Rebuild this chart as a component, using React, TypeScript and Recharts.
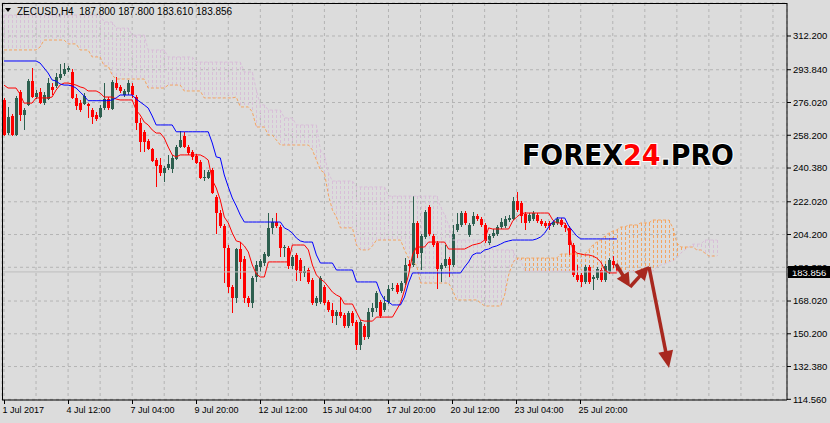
import React from 'react';
import {
  ComposedChart,
  Bar,
  Line,
  XAxis,
  YAxis,
  CartesianGrid,
  ReferenceLine,
} from 'recharts';

// bar slots on the time axis (candles + 26 bars of cloud + empty space)
const SLOTS = 196;

// OHLC per H4 bar: [open, high, low, close]
const candles: number[][] = [
  [277.4, 278.5, 257.8, 258.3], [259.4, 273.6, 258.3, 268.1], [268.7, 269.8, 257.8, 258.3], [258.3, 279.6, 257.8, 278.5],
  [281.7, 282.8, 266.0, 269.2], [269.2, 273.0, 261.1, 271.9], [274.7, 288.8, 274.1, 287.7], [287.7, 294.8, 278.5, 279.0],
  [279.0, 282.8, 277.9, 281.2], [281.7, 283.9, 275.2, 275.7], [275.7, 281.7, 274.7, 280.1], [277.9, 289.3, 277.4, 286.6],
  [284.5, 286.6, 280.1, 282.8], [285.0, 292.1, 283.9, 289.9], [289.3, 297.0, 288.3, 291.5], [291.5, 297.5, 290.4, 294.2],
  [293.7, 295.9, 292.6, 294.8], [292.6, 294.2, 277.9, 278.5], [278.5, 280.6, 271.9, 274.1], [275.7, 277.4, 270.9, 271.9],
  [275.2, 281.2, 274.7, 279.6], [275.2, 275.7, 267.6, 274.1], [271.9, 273.0, 264.3, 268.1], [269.2, 270.9, 266.0, 267.0],
  [268.1, 274.7, 267.6, 273.0], [273.0, 286.6, 271.9, 277.9], [277.9, 279.0, 271.9, 273.0], [272.5, 288.3, 271.9, 287.2],
  [286.6, 289.9, 282.8, 283.9], [284.5, 285.5, 281.2, 282.3], [280.1, 283.4, 279.0, 282.3], [281.7, 288.3, 280.1, 286.6],
  [285.0, 286.6, 278.5, 280.1], [279.0, 280.1, 261.1, 264.9], [264.9, 267.6, 249.1, 254.5], [260.0, 261.1, 249.1, 254.5],
  [255.1, 256.2, 250.2, 250.7], [250.7, 251.3, 243.7, 244.2], [244.7, 245.9, 230.1, 241.5], [242.0, 245.9, 236.0, 237.7],
  [237.7, 241.5, 232.8, 240.4], [240.4, 247.5, 239.3, 242.6], [239.9, 247.5, 237.7, 245.9], [245.3, 252.9, 244.7, 251.8],
  [251.8, 260.5, 251.3, 255.6], [257.8, 260.0, 251.3, 251.8], [251.8, 252.9, 247.5, 248.6], [249.1, 250.2, 244.7, 246.4],
  [247.0, 248.0, 242.6, 243.1], [243.7, 244.7, 234.4, 234.9], [234.9, 239.3, 233.3, 235.5], [234.9, 239.3, 234.4, 238.2],
  [239.3, 240.4, 226.2, 226.8], [224.6, 225.7, 204.5, 215.9], [215.9, 217.5, 207.8, 208.8], [208.8, 209.9, 177.8, 196.9],
  [196.9, 198.5, 172.4, 175.7], [175.7, 176.7, 161.5, 169.7], [169.7, 196.9, 167.0, 196.3], [196.3, 200.1, 180.0, 189.3],
  [190.9, 192.5, 167.0, 169.7], [169.7, 170.8, 164.8, 167.0], [167.0, 181.6, 164.2, 180.5], [181.1, 189.8, 178.4, 187.6],
  [186.5, 190.9, 183.8, 189.8], [188.7, 194.7, 187.1, 193.6], [192.5, 215.9, 192.0, 207.8], [207.8, 213.2, 204.5, 211.0],
  [211.0, 215.9, 207.8, 208.8], [208.3, 209.4, 192.0, 196.9], [196.9, 198.5, 192.0, 197.4], [196.9, 198.0, 185.4, 187.1],
  [187.1, 193.1, 185.4, 192.0], [193.1, 194.1, 178.9, 184.9], [190.3, 191.4, 178.9, 183.3], [183.3, 187.1, 181.1, 184.3],
  [184.9, 186.0, 177.3, 178.4], [179.5, 180.5, 165.9, 167.0], [167.0, 170.8, 165.3, 169.7], [167.5, 181.6, 166.4, 180.5],
  [175.7, 176.7, 165.9, 167.0], [167.5, 168.6, 162.0, 163.1], [163.1, 167.0, 156.1, 159.9], [159.9, 163.1, 155.0, 162.0],
  [162.0, 170.2, 158.8, 159.9], [160.4, 161.5, 153.3, 154.4], [154.4, 162.6, 153.3, 161.5], [161.5, 162.6, 154.4, 156.1],
  [156.6, 157.7, 141.4, 144.1], [144.1, 157.7, 141.4, 156.6], [154.4, 155.5, 146.8, 148.5], [148.5, 164.2, 147.4, 162.0],
  [162.0, 167.0, 159.3, 164.2], [164.2, 173.5, 162.0, 172.4], [167.5, 168.6, 158.8, 159.9], [163.1, 170.8, 162.0, 167.0],
  [167.5, 176.7, 166.4, 174.6], [174.6, 177.8, 173.5, 175.1], [176.7, 177.8, 171.8, 172.9], [173.5, 178.9, 172.4, 177.8],
  [177.8, 191.4, 176.7, 187.6], [188.2, 190.3, 183.8, 187.1], [187.6, 225.1, 186.5, 210.5], [210.5, 211.5, 191.4, 193.6],
  [194.1, 204.5, 184.9, 203.4], [202.9, 217.5, 201.8, 216.5], [219.2, 220.3, 203.4, 204.5], [203.4, 204.5, 197.4, 198.5],
  [199.6, 200.7, 174.6, 185.4], [185.4, 188.7, 178.4, 187.6], [187.1, 198.5, 186.0, 190.9], [190.9, 192.0, 181.1, 187.6],
  [187.6, 209.4, 186.5, 204.5], [206.7, 215.9, 205.6, 209.9], [209.4, 217.0, 208.3, 215.9], [215.9, 217.0, 209.4, 210.5],
  [203.9, 210.5, 202.9, 209.4], [209.9, 216.5, 208.8, 214.3], [214.3, 215.4, 211.5, 212.6], [212.6, 213.7, 208.3, 209.4],
  [209.4, 210.5, 199.6, 200.7], [199.6, 204.5, 198.5, 203.4], [203.4, 207.2, 202.3, 205.0], [204.5, 209.4, 203.4, 208.3],
  [208.3, 213.2, 207.2, 211.0], [208.8, 214.3, 207.8, 212.6], [212.1, 214.8, 211.0, 213.2], [212.6, 224.6, 212.1, 222.4],
  [222.4, 227.3, 216.5, 217.5], [221.3, 222.4, 210.5, 214.3], [215.4, 216.5, 206.7, 210.5], [211.5, 215.9, 210.5, 214.8],
  [212.6, 217.0, 211.5, 215.9], [214.8, 215.9, 210.5, 211.5], [211.5, 212.6, 208.8, 209.9], [210.5, 211.5, 207.8, 208.8],
  [210.5, 211.5, 206.7, 208.8], [209.4, 212.1, 208.3, 211.0], [210.5, 213.7, 209.4, 212.6], [212.1, 213.2, 208.3, 209.4],
  [209.4, 210.5, 205.6, 207.8], [207.8, 208.8, 193.1, 198.5], [198.5, 199.6, 181.1, 182.2], [182.2, 187.6, 178.4, 179.5],
  [182.2, 183.3, 175.7, 178.4], [178.4, 187.6, 177.3, 186.5], [186.5, 187.6, 177.3, 178.4], [180.0, 182.2, 174.0, 181.1],
  [180.5, 186.5, 179.5, 185.4], [184.9, 186.0, 178.4, 179.5], [179.5, 188.2, 178.4, 187.1], [183.8, 191.4, 182.7, 190.3],
  [189.8, 192.5, 186.0, 187.6], [187.8, 187.8, 183.61, 183.856],
];

// Ichimoku: Tenkan-sen (red)
const tenkan = [
  285.5, 283.9, 283.9, 283.9, 280.6, 275.7, 275.7, 275.7, 278.5, 278.5,
  278.5, 278.5, 279.0, 282.8, 285.5, 286.6, 286.6, 286.1, 285.5, 284.5,
  283.9, 282.3, 282.3, 282.3, 281.2, 279.0, 279.0, 279.0, 277.9, 277.4,
  277.4, 277.4, 277.4, 271.9, 269.2, 265.4, 263.8, 261.1, 259.4, 259.4,
  256.7, 251.8, 247.5, 246.4, 247.5, 247.5, 247.5, 247.5, 247.5, 247.5,
  246.4, 244.7, 233.9, 229.5, 223.0, 213.7, 210.5, 205.0, 200.7, 200.1,
  198.0, 194.7, 187.6, 182.7, 181.1, 181.1, 189.3, 189.3, 189.3, 189.3,
  189.3, 189.3, 198.5, 198.5, 198.5, 198.5, 195.8, 187.6, 182.2, 180.0,
  178.4, 175.7, 172.9, 171.3, 170.2, 166.4, 166.4, 166.4, 162.0, 157.7,
  157.1, 157.1, 157.1, 159.3, 159.3, 159.3, 159.3, 159.3, 163.1, 167.0,
  174.0, 182.2, 193.1, 197.4, 197.4, 197.4, 200.1, 200.1, 200.1, 200.1,
  200.1, 196.3, 196.3, 196.3, 196.3, 196.3, 197.4, 198.5, 199.0, 199.6,
  201.2, 207.8, 207.2, 207.2, 207.2, 207.2, 207.2, 211.5, 213.7, 215.4,
  215.9, 215.9, 215.9, 215.9, 215.9, 215.9, 215.9, 212.1, 210.5, 210.5,
  210.5, 205.6, 196.3, 194.1, 193.6, 193.1, 193.1, 192.5, 191.4, 189.3,
  184.9, 183.3, 183.3, 183.3,
];

// Ichimoku: Kijun-sen (blue)
const kijun = [
  298.6, 298.6, 298.6, 298.6, 298.6, 298.6, 298.6, 298.6, 298.6, 297.5,
  294.8, 292.1, 288.3, 287.7, 286.1, 285.5, 285.5, 285.0, 283.9, 281.7,
  279.6, 277.0, 277.0, 277.0, 277.0, 277.0, 277.0, 277.4, 278.5, 280.1,
  280.1, 280.1, 280.1, 277.9, 276.3, 274.7, 273.0, 268.7, 263.8, 263.8,
  263.8, 263.8, 263.8, 260.1, 260.1, 260.1, 260.1, 260.1, 260.1, 260.1,
  260.1, 260.1, 254.0, 246.4, 245.9, 236.6, 230.1, 224.1, 219.7, 214.8,
  211.0, 211.0, 211.0, 211.0, 211.0, 211.0, 211.0, 211.0, 211.0, 211.0,
  207.8, 206.7, 205.0, 202.3, 200.7, 200.1, 200.1, 200.1, 193.1, 188.7,
  188.7, 188.7, 188.7, 184.9, 184.9, 184.9, 184.9, 184.9, 178.4, 178.4,
  178.4, 178.4, 178.4, 178.4, 172.4, 168.6, 167.5, 165.9, 165.9, 165.9,
  170.2, 177.8, 183.3, 183.3, 183.3, 183.3, 183.3, 183.3, 183.3, 183.3,
  183.3, 183.3, 183.3, 183.3, 183.3, 186.5, 189.3, 193.1, 194.1, 194.1,
  195.8, 196.3, 197.4, 198.0, 199.0, 200.1, 200.7, 201.2, 201.2, 201.2,
  201.2, 201.2, 201.2, 201.8, 202.9, 205.0, 208.3, 211.0, 213.2, 213.2,
  213.2, 208.8, 206.1, 203.4, 201.8, 201.8, 201.8, 201.8, 201.8, 201.8,
  201.8, 201.8, 201.8, 201.8,
];

// Senkou Span A (sandy brown), already shifted 26 bars ahead
const spanA = [
  304.6, 304.6, 304.6, 304.6, 304.6, 304.6, 304.6, 304.6, 304.6, 306.2,
  310.0, 310.0, 310.0, 310.0, 310.0, 310.0, 307.9, 307.9, 307.9, 304.6,
  304.6, 304.6, 300.8, 300.8, 300.8, 295.9, 295.9, 291.0, 288.8, 288.8,
  288.8, 288.8, 288.8, 288.8, 288.8, 288.8, 283.9, 283.9, 283.9, 283.9,
  283.9, 285.5, 285.5, 285.5, 285.5, 282.3, 282.3, 282.3, 282.3, 282.3,
  278.5, 278.5, 278.5, 278.5, 278.5, 278.5, 278.5, 278.5, 279.0, 273.6,
  273.6, 273.6, 270.9, 262.7, 262.7, 262.7, 258.3, 258.3, 255.6, 252.9,
  252.9, 252.9, 252.9, 252.9, 252.9, 252.9, 252.9, 250.2, 244.7, 239.3,
  237.7, 225.7, 217.5, 213.7, 207.8, 207.8, 207.8, 207.8, 198.5, 195.8,
  195.8, 195.8, 198.0, 201.2, 201.2, 201.2, 201.2, 201.2, 201.2, 201.2,
  195.8, 191.4, 189.3, 187.6, 177.8, 177.8, 177.8, 177.8, 177.8, 177.8,
  177.8, 177.8, 174.0, 168.6, 168.6, 168.6, 168.6, 168.6, 168.6, 167.0,
  165.3, 165.3, 165.3, 165.3, 165.3, 171.3, 182.2, 188.7, 191.4, 191.4,
  191.4, 191.4, 191.4, 191.4, 191.4, 191.4, 191.4, 191.4, 191.4, 193.6,
  193.6, 193.6, 193.6, 193.6, 193.6, 193.6, 195.8, 198.5, 200.1, 201.2,
  203.4, 205.0, 206.1, 206.7, 208.3, 208.3, 209.4, 209.4, 209.4, 210.5,
  210.5, 210.5, 212.1, 212.1, 212.1, 212.1, 212.1, 207.8, 199.6, 197.4,
  197.4, 197.4, 197.4, 195.8, 195.8, 194.1, 192.5, 192.5, 192.5,
];

// Senkou Span B (thistle), already shifted 26 bars ahead
const spanB = [
  323.6, 323.6, 323.6, 323.6, 323.6, 323.6, 323.6, 323.6, 323.6, 323.6,
  323.6, 323.6, 323.6, 323.6, 323.6, 323.6, 323.6, 323.6, 323.6, 323.6,
  323.6, 323.6, 323.6, 323.6, 323.6, 319.8, 319.8, 319.8, 316.5, 316.5,
  316.5, 316.5, 312.7, 312.7, 312.7, 312.7, 304.6, 304.6, 304.6, 304.6,
  304.6, 300.8, 300.8, 300.8, 300.8, 300.8, 300.8, 300.8, 298.0, 298.0,
  298.0, 298.0, 298.0, 298.0, 298.0, 298.0, 298.0, 298.0, 298.0, 298.0,
  292.6, 292.6, 292.6, 282.8, 274.7, 274.7, 271.9, 271.9, 271.9, 271.9,
  267.6, 267.6, 267.6, 263.8, 263.8, 263.8, 263.8, 263.8, 263.8, 250.2,
  247.5, 237.7, 233.3, 233.3, 233.3, 233.3, 233.3, 233.3, 230.1, 230.1,
  230.1, 230.1, 230.1, 230.1, 230.1, 230.1, 225.1, 225.1, 225.1, 225.1,
  225.1, 225.1, 225.1, 225.1, 225.1, 225.1, 225.1, 225.1, 225.1, 219.2,
  214.8, 209.4, 201.2, 201.2, 201.2, 201.2, 201.2, 201.2, 201.2, 201.2,
  201.2, 201.2, 195.8, 195.8, 195.8, 195.8, 195.8, 195.8, 190.3, 190.3,
  184.3, 184.3, 184.3, 184.3, 184.3, 184.3, 184.3, 184.3, 184.3, 184.3,
  184.3, 184.3, 184.3, 184.3, 184.3, 184.3, 184.3, 184.3, 184.3, 184.3,
  184.3, 184.3, 184.3, 184.3, 184.3, 184.3, 184.3, 184.3, 184.3, 184.3,
  184.3, 184.3, 184.3, 186.5, 187.6, 188.2, 189.3, 189.8, 191.4, 194.1,
  195.8, 197.4, 199.0, 199.0, 199.0, 201.2, 201.2, 201.2, 201.2,
];

const priceTicks = [114.56, 132.38, 150.2, 168.02, 186.38, 204.2, 222.02, 240.38, 258.2, 276.02, 293.84, 312.2];
const timeLabels: Record<number, string> = {
  0: '1 Jul 2017',
  16: '4 Jul 12:00',
  32: '7 Jul 04:00',
  48: '9 Jul 20:00',
  64: '12 Jul 12:00',
  80: '15 Jul 04:00',
  96: '17 Jul 20:00',
  112: '20 Jul 12:00',
  128: '23 Jul 04:00',
  144: '25 Jul 20:00',
};
const lastPrice = 183.856;
const header = 'ZECUSD,H4  187.800 187.800 183.610 183.856';

const FONT = '"Liberation Sans", Arial, sans-serif';
const BG = '#dcdcdc';
const BULL = '#2d5f4f';
const BEAR = '#ff0000';
const ARROW = '#a8281f';

const data = Array.from({ length: SLOTS }, (_, i) => {
  const k = candles[i];
  const a = spanA[i];
  const b = spanB[i];
  return {
    i,
    range: k ? [k[2], k[1]] : null,
    o: k ? k[0] : null,
    h: k ? k[1] : null,
    l: k ? k[2] : null,
    c: k ? k[3] : null,
    tenkan: tenkan[i] ?? null,
    kijun: kijun[i] ?? null,
    spanA: a ?? null,
    spanB: b ?? null,
    cloud: a != null && b != null ? [Math.min(a, b), Math.max(a, b)] : null,
    bullCloud: a != null && b != null ? a >= b : false,
  };
});

const Candle = (props: any) => {
  const { x, y, width, height, payload } = props;
  if (!payload || payload.o == null || !isFinite(y)) return null;
  const { o, h, l, c } = payload;
  const top = Math.min(y, y + height);
  const k = Math.abs(height) / (h - l || 1);
  const px = Math.floor(x + width / 2);
  const bTop = Math.round(top + (h - Math.max(o, c)) * k);
  const bBot = Math.max(bTop + 1, Math.round(top + (h - Math.min(o, c)) * k));
  const col = c >= o ? BULL : BEAR;
  return (
    <g shapeRendering="crispEdges">
      <line x1={px + 0.5} x2={px + 0.5} y1={Math.round(top)} y2={Math.round(top + Math.abs(height))} stroke={col} strokeWidth={1} />
      <rect x={px - 1} y={bTop} width={3} height={bBot - bTop} fill={col} />
    </g>
  );
};

const CloudHatch = (props: any) => {
  const { x, y, width, height, payload } = props;
  if (!payload || payload.cloud == null || !isFinite(y)) return null;
  const top = Math.min(y, y + height);
  const px = Math.floor(x + width / 2) + 0.5;
  return (
    <line
      x1={px}
      x2={px}
      y1={Math.round(top)}
      y2={Math.round(top + Math.abs(height))}
      stroke={payload.bullCloud ? '#f4a460' : '#d8bfd8'}
      strokeWidth={1}
      strokeDasharray="3 2"
      shapeRendering="crispEdges"
    />
  );
};

const TimeTick = (props: any) => {
  const { x, y, payload } = props;
  const label = timeLabels[payload.value];
  if (label === undefined) return null;
  const px = Math.floor(x) + 0.5;
  return (
    <g>
      <line x1={px} x2={px} y1={y} y2={y + 4} stroke="#000" shapeRendering="crispEdges" />
      <text x={px - 2} y={y + 13} fontSize={9} fontFamily={FONT} fill="#000" textAnchor="start">
        {label}
      </text>
    </g>
  );
};

const PriceBox = (props: any) => {
  const vb = props.viewBox || {};
  const yy = Math.round(vb.y ?? 0);
  const xr = (vb.x ?? 0) + (vb.width ?? 0);
  return (
    <g>
      <rect x={xr + 1} y={yy - 6} width={42} height={12} fill="#000" />
      <text x={xr + 5} y={yy + 4} fontSize={9.5} fontFamily={FONT} fill="#fff">
        {lastPrice.toFixed(3)}
      </text>
    </g>
  );
};

// arrow with a triangular head, from tail to tip
const Arrow = ({ x1, y1, x2, y2, head = 14, w = 14 }: any) => {
  const dx = x2 - x1;
  const dy = y2 - y1;
  const len = Math.hypot(dx, dy);
  const ux = dx / len;
  const uy = dy / len;
  const bx = x2 - ux * head;
  const by = y2 - uy * head;
  const nx = -uy * (w / 2);
  const ny = ux * (w / 2);
  return (
    <g>
      <line x1={x1} y1={y1} x2={bx + ux * 2} y2={by + uy * 2} stroke={ARROW} strokeWidth={3.5} />
      <polygon points={`${x2},${y2} ${bx + nx},${by + ny} ${bx - nx},${by - ny}`} fill={ARROW} />
    </g>
  );
};

export default function App() {
  return (
    <div style={{ position: 'relative', width: 830, height: 423, background: BG }}>
      <style>{'body{margin:0;}'}</style>
      <ComposedChart
        width={830}
        height={423}
        data={data}
        margin={{ top: 3, right: 0, bottom: 0, left: 2 }}
        barGap={0}
        barCategoryGap={0}
      >
        <CartesianGrid stroke="#b4b4b4" strokeDasharray="3 3" />
        <XAxis
          dataKey="i"
          type="category"
          interval={7}
          height={23}
          tickSize={0}
          tickMargin={0}
          tick={<TimeTick />}
          axisLine={{ stroke: '#000' }}
          tickLine={false}
        />
        <XAxis xAxisId="cloud" dataKey="i" type="category" hide />
        <YAxis
          orientation="right"
          width={43}
          domain={[114.18, 330.15]}
          ticks={priceTicks}
          allowDataOverflow
          tickFormatter={(v: number) => v.toFixed(3)}
          tickSize={4}
          tickMargin={2}
          tick={{ fontSize: 9.5, fontFamily: FONT, fill: '#000' }}
          axisLine={{ stroke: '#000' }}
          tickLine={{ stroke: '#000' }}
        />
        <ReferenceLine y={lastPrice} stroke="#bdbdbd" strokeWidth={1} label={<PriceBox />} />
        <Bar xAxisId="cloud" dataKey="cloud" barSize={1} shape={<CloudHatch />} isAnimationActive={false} />
        <Line dataKey="spanA" stroke="#f4a460" strokeWidth={1} strokeDasharray="3 2" dot={false} isAnimationActive={false} type="linear" />
        <Line dataKey="spanB" stroke="#d8bfd8" strokeWidth={1} strokeDasharray="3 2" dot={false} isAnimationActive={false} type="linear" />
        <Bar dataKey="range" barSize={3} shape={<Candle />} isAnimationActive={false} />
        <Line dataKey="tenkan" stroke="#ff0000" strokeWidth={1} dot={false} isAnimationActive={false} type="linear" />
        <Line dataKey="kijun" stroke="#0000ff" strokeWidth={1} dot={false} isAnimationActive={false} type="linear" />
      </ComposedChart>
      <svg width={830} height={423} style={{ position: 'absolute', left: 0, top: 0, pointerEvents: 'none' }}>
        <line x1={2.5} y1={3} x2={2.5} y2={400} stroke="#000" shapeRendering="crispEdges" />
        <line x1={2} y1={3.5} x2={787} y2={3.5} stroke="#000" shapeRendering="crispEdges" />
        <polygon points="5,8 11,8 8,12" fill="#000" />
        <text x={17} y={15} fontSize={10} fontFamily={FONT} fill="#000" style={{ whiteSpace: 'pre' }}>
          {header}
        </text>
        <text
          x={522}
          y={165}
          fontSize={28}
          fontWeight={900}
          fontFamily='"DejaVu Sans", sans-serif'
          textLength={212}
          lengthAdjust="spacingAndGlyphs"
          stroke="#fff"
          strokeWidth={2}
          paintOrder="stroke"
        >
          <tspan fill="#000">FOREX</tspan>
          <tspan fill="#ff0000">24</tspan>
          <tspan fill="#000">.PRO</tspan>
        </text>
        <Arrow x1={616} y1={264} x2={630} y2={287} />
        <Arrow x1={630} y1={287} x2={649} y2={266} />
        <Arrow x1={649} y1={267} x2={669} y2={368} head={17} w={15} />
      </svg>
    </div>
  );
}
